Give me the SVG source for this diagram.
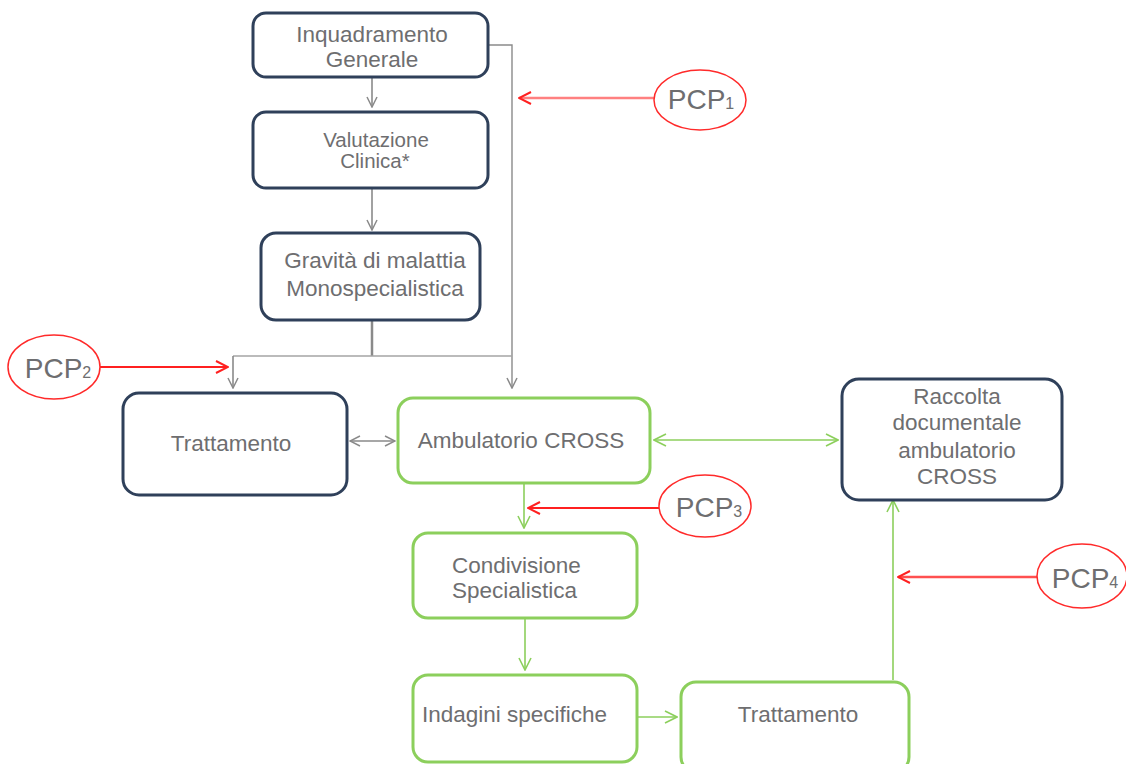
<svg xmlns="http://www.w3.org/2000/svg" width="1126" height="764" viewBox="0 0 1126 764">
<defs>
<style>
text{font-family:"Liberation Sans",Arial,sans-serif;fill:#6e6e70;}
.navy{fill:#fff;stroke:#2f405a;stroke-width:3;}
.green{fill:#fff;stroke:#8ccf5c;stroke-width:3;}
.oval{fill:#fff;stroke:#ff2a2a;stroke-width:1.5;}
.gl{stroke:#8a8a8a;stroke-width:1.6;fill:none;}
.gr{stroke:#8ccf5c;stroke-width:1.6;fill:none;}
.rd{stroke:#ff2020;stroke-width:2;fill:none;}
.rdl{stroke:#ff8080;stroke-width:2.5;fill:none;}
.t{font-size:22.5px;text-anchor:middle;}
.p{font-size:28px;text-anchor:middle;}
.s{font-size:16px;}
</style>
<marker id="ag" viewBox="0 0 12 12" refX="11" refY="6" markerWidth="12" markerHeight="12" markerUnits="userSpaceOnUse" orient="auto-start-reverse"><path d="M1,1 L11,6 L1,11" fill="none" stroke="#8a8a8a" stroke-width="1.5"/></marker>
<marker id="agr" viewBox="0 0 14 14" refX="13" refY="7" markerWidth="14" markerHeight="14" markerUnits="userSpaceOnUse" orient="auto-start-reverse"><path d="M1,1 L13,7 L1,13" fill="none" stroke="#8ccf5c" stroke-width="1.6"/></marker>
<marker id="ar" viewBox="0 0 14 14" refX="13" refY="7" markerWidth="14" markerHeight="14" markerUnits="userSpaceOnUse" orient="auto"><path d="M1,1 L13,7 L1,13" fill="none" stroke="#ff2020" stroke-width="2"/></marker>
</defs>
<rect width="1126" height="764" fill="#fff"/>
<g id="connectors">
<line class="gl" x1="372" y1="78" x2="372" y2="107" marker-end="url(#ag)"/>
<line class="gl" x1="372" y1="189" x2="372" y2="230" marker-end="url(#ag)"/>
<polyline class="gl" points="488,45 512,45 512,388" marker-end="url(#ag)" style="stroke-width:1.4"/>
<line class="gl" x1="372" y1="321" x2="372" y2="356" style="stroke-width:2.5"/>
<line class="gl" x1="233" y1="356" x2="512" y2="356" style="stroke:#a5a5a5"/>
<line class="gl" x1="233" y1="356" x2="233" y2="388" marker-end="url(#ag)"/>
<line class="gl" x1="350" y1="441" x2="395" y2="441" marker-start="url(#ag)" marker-end="url(#ag)"/>
<line class="gr" x1="654" y1="440" x2="838" y2="440" marker-start="url(#agr)" marker-end="url(#agr)"/>
<line class="gr" x1="524" y1="484" x2="524" y2="528" marker-end="url(#agr)"/>
<line class="gr" x1="525" y1="619" x2="525" y2="670" marker-end="url(#agr)"/>
<line class="gr" x1="627" y1="717" x2="677" y2="717" marker-end="url(#agr)"/>
<line class="gr" x1="893" y1="680" x2="893" y2="500" marker-end="url(#agr)"/>
<line class="rdl" x1="654" y1="98" x2="519" y2="98" marker-end="url(#ar)"/>
<line class="rd" x1="100" y1="367" x2="228" y2="367" marker-end="url(#ar)"/>
<line class="rd" x1="659" y1="508" x2="528" y2="508" marker-end="url(#ar)"/>
<line class="rdl" x1="1037" y1="577" x2="898" y2="577" marker-end="url(#ar)" style="stroke:#ff5050"/>
</g>
<g id="n-inquadramento">
<rect class="navy" x="253" y="13" width="235" height="64" rx="13"/>
<text class="t" x="372" y="42">Inquadramento</text>
<text class="t" x="372" y="67">Generale</text>
</g>
<g id="n-valutazione">
<rect class="navy" x="253" y="112" width="235" height="76" rx="13"/>
<text class="t" x="376" y="147" style="font-size:20.5px">Valutazione</text>
<text class="t" x="375" y="168" style="font-size:20.5px">Clinica*</text>
</g>
<g id="n-gravita">
<rect class="navy" x="261" y="233" width="219" height="87" rx="15"/>
<text class="t" x="375" y="268">Gravità di malattia</text>
<text class="t" x="375" y="296">Monospecialistica</text>
</g>
<g id="n-pcp1">
<ellipse class="oval" cx="700" cy="100" rx="46" ry="30"/>
<text class="p" x="701" y="109">PCP<tspan class="s">1</tspan></text>
</g>
<g id="n-pcp2">
<ellipse class="oval" cx="54" cy="367" rx="46" ry="32"/>
<text class="p" x="58" y="378">PCP<tspan class="s">2</tspan></text>
</g>
<g id="n-trattamento1">
<rect class="navy" x="123" y="393" width="224" height="102" rx="16"/>
<text class="t" x="231" y="451">Trattamento</text>
</g>
<g id="n-ambulatorio">
<rect class="green" x="398" y="398" width="252" height="85" rx="15"/>
<text class="t" x="521" y="448">Ambulatorio CROSS</text>
</g>
<g id="n-raccolta">
<rect class="navy" x="842" y="379" width="220" height="121" rx="17"/>
<text class="t" x="957" y="404">Raccolta</text>
<text class="t" x="957" y="430">documentale</text>
<text class="t" x="957" y="458">ambulatorio</text>
<text class="t" x="957" y="484">CROSS</text>
</g>
<g id="n-pcp3">
<ellipse class="oval" cx="705" cy="506" rx="46" ry="31"/>
<text class="p" x="709" y="517">PCP<tspan class="s">3</tspan></text>
</g>
<g id="n-condivisione">
<rect class="green" x="413" y="533" width="224" height="85" rx="15"/>
<text class="t" x="452" y="573" style="text-anchor:start">Condivisione</text>
<text class="t" x="452" y="598" style="text-anchor:start">Specialistica</text>
</g>
<g id="n-indagini">
<rect class="green" x="413" y="675" width="224" height="87" rx="15"/>
<text class="t" x="422" y="722" style="text-anchor:start">Indagini specifiche</text>
</g>
<g id="n-trattamento2">
<rect class="green" x="681" y="682" width="228" height="90" rx="15"/>
<text class="t" x="798" y="722">Trattamento</text>
</g>
<g id="n-pcp4">
<ellipse class="oval" cx="1082" cy="576" rx="45" ry="32"/>
<text class="p" x="1085" y="588">PCP<tspan class="s">4</tspan></text>
</g>
</svg>
